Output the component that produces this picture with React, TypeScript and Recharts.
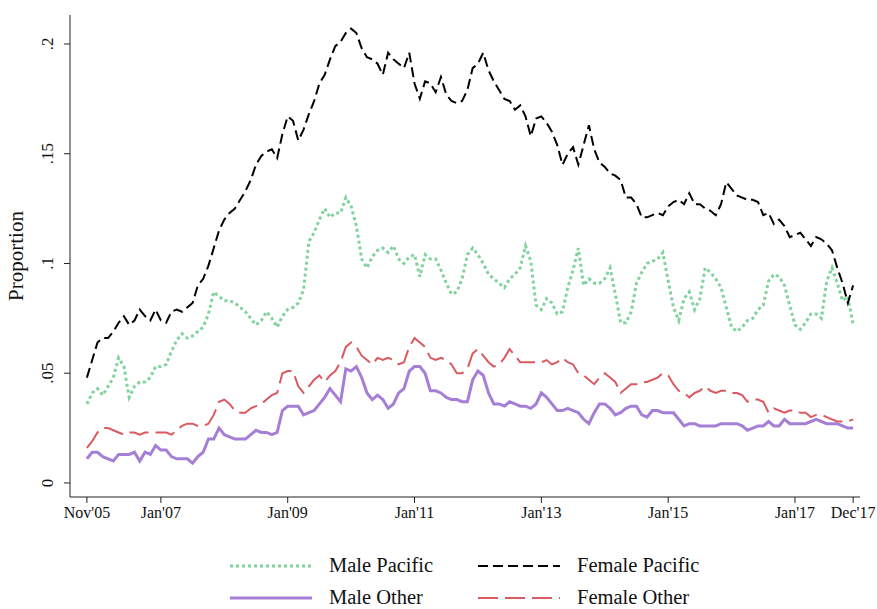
import React from 'react';
import { LineChart, Line, XAxis, YAxis } from 'recharts';

// monthly series, Nov'05 .. Dec'17 (146 months)
const malePacific = [
  0.036, 0.041, 0.043, 0.04, 0.044, 0.048, 0.057, 0.053, 0.039, 0.044,
  0.046, 0.046, 0.048, 0.053, 0.053, 0.054, 0.06, 0.065, 0.068, 0.066,
  0.067, 0.069, 0.071, 0.077, 0.087, 0.085, 0.083, 0.083, 0.082, 0.08,
  0.078, 0.075, 0.072, 0.074, 0.078, 0.075, 0.071, 0.076, 0.079, 0.08,
  0.082, 0.088, 0.11, 0.114, 0.12, 0.125, 0.121, 0.123, 0.123, 0.13,
  0.126, 0.117, 0.102, 0.098, 0.103, 0.106, 0.107, 0.105, 0.108, 0.102,
  0.1, 0.103, 0.104, 0.094, 0.104, 0.102, 0.102, 0.097, 0.091, 0.086,
  0.087, 0.093, 0.104, 0.107, 0.104, 0.1, 0.095, 0.093, 0.091, 0.089,
  0.093, 0.095, 0.098, 0.108, 0.101, 0.081, 0.079, 0.084, 0.082, 0.077,
  0.078, 0.089, 0.097, 0.107, 0.09, 0.093, 0.091, 0.091, 0.093, 0.098,
  0.086, 0.073, 0.073, 0.078, 0.091, 0.096, 0.1, 0.101, 0.102, 0.105,
  0.092, 0.08, 0.074, 0.084, 0.087, 0.079, 0.084, 0.098, 0.096, 0.093,
  0.089, 0.08, 0.071, 0.069, 0.071, 0.074, 0.075, 0.079, 0.081, 0.092,
  0.095, 0.094, 0.09, 0.081, 0.072, 0.07, 0.073, 0.077, 0.077, 0.075,
  0.092, 0.098, 0.091, 0.083, 0.085, 0.072,
];

const femalePacific = [
  0.048, 0.056, 0.064, 0.066, 0.066, 0.069, 0.073, 0.076, 0.072, 0.074,
  0.079, 0.076, 0.074, 0.079, 0.074, 0.073, 0.078, 0.079, 0.078, 0.08,
  0.082, 0.09, 0.093, 0.099, 0.107, 0.115, 0.12, 0.123, 0.125, 0.129,
  0.133, 0.138, 0.145, 0.149, 0.151, 0.152, 0.148, 0.159, 0.167, 0.165,
  0.156, 0.161, 0.168, 0.174, 0.182, 0.186, 0.193, 0.199, 0.201, 0.205,
  0.207, 0.205, 0.198, 0.194, 0.193, 0.191, 0.186, 0.196, 0.193, 0.191,
  0.189, 0.196, 0.182, 0.175, 0.183, 0.182, 0.178, 0.185, 0.177, 0.174,
  0.173, 0.174, 0.179, 0.189, 0.191, 0.196, 0.188, 0.183, 0.179, 0.175,
  0.174, 0.17, 0.172, 0.167, 0.158, 0.166, 0.167, 0.164, 0.16, 0.154,
  0.145, 0.15, 0.153, 0.145, 0.154, 0.163, 0.152, 0.146, 0.144, 0.141,
  0.14, 0.138, 0.13, 0.13, 0.127, 0.121, 0.121, 0.122, 0.123, 0.122,
  0.126, 0.128, 0.129, 0.127, 0.132, 0.127, 0.127, 0.125, 0.124, 0.122,
  0.127, 0.137, 0.134, 0.131, 0.13, 0.129, 0.129, 0.128, 0.122, 0.123,
  0.118, 0.12, 0.117, 0.112, 0.113, 0.114, 0.111, 0.108, 0.112, 0.111,
  0.109, 0.106, 0.098, 0.091, 0.082, 0.09,
];

const maleOther = [
  0.011, 0.014, 0.014, 0.012, 0.011, 0.01, 0.013, 0.013, 0.013, 0.014,
  0.01, 0.014, 0.013, 0.017, 0.015, 0.015, 0.012, 0.011, 0.011, 0.011,
  0.009, 0.012, 0.014, 0.02, 0.02, 0.025, 0.022, 0.021, 0.02, 0.02,
  0.02, 0.022, 0.024, 0.023, 0.023, 0.022, 0.023, 0.033, 0.035, 0.035,
  0.035, 0.031, 0.032, 0.033, 0.036, 0.039, 0.043, 0.04, 0.037, 0.052,
  0.051, 0.053, 0.048, 0.041, 0.038, 0.04, 0.038, 0.034, 0.036, 0.041,
  0.043, 0.051, 0.053, 0.053, 0.05, 0.042, 0.042, 0.041, 0.039, 0.038,
  0.038, 0.037, 0.037, 0.047, 0.051, 0.049, 0.041, 0.036, 0.036, 0.035,
  0.037, 0.036, 0.035, 0.035, 0.034, 0.036, 0.041, 0.039, 0.036, 0.033,
  0.033, 0.034, 0.033, 0.032, 0.029, 0.027, 0.032, 0.036, 0.036, 0.034,
  0.031, 0.032, 0.034, 0.035, 0.035, 0.031, 0.03, 0.033, 0.033, 0.032,
  0.032, 0.032, 0.029, 0.026, 0.027, 0.027, 0.026, 0.026, 0.026, 0.026,
  0.027, 0.027, 0.027, 0.027, 0.026, 0.024, 0.025, 0.026, 0.026, 0.028,
  0.026, 0.026, 0.029, 0.027, 0.027, 0.027, 0.027, 0.028, 0.029, 0.028,
  0.027, 0.027, 0.027, 0.026, 0.025, 0.025,
];

const femaleOther = [
  0.016, 0.019, 0.023, 0.025, 0.025, 0.024, 0.023, 0.022, 0.023, 0.023,
  0.022, 0.023, 0.023, 0.023, 0.023, 0.023, 0.022, 0.024, 0.026, 0.027,
  0.027, 0.026, 0.026, 0.027, 0.031, 0.037, 0.038, 0.036, 0.033, 0.032,
  0.032, 0.034, 0.035, 0.036, 0.038, 0.04, 0.041, 0.05, 0.051, 0.051,
  0.044, 0.041, 0.044, 0.047, 0.049, 0.046, 0.049, 0.051, 0.055, 0.062,
  0.064, 0.062, 0.058, 0.056, 0.054, 0.057, 0.056, 0.057, 0.056, 0.054,
  0.055, 0.062, 0.066, 0.064, 0.062, 0.057, 0.056, 0.057, 0.056, 0.054,
  0.05, 0.05, 0.052, 0.059, 0.061, 0.058, 0.055, 0.053, 0.054, 0.057,
  0.061, 0.058, 0.055, 0.055, 0.055, 0.055, 0.055, 0.056, 0.054, 0.055,
  0.057, 0.055, 0.054, 0.05, 0.049, 0.047, 0.045, 0.048, 0.05, 0.048,
  0.046, 0.041, 0.043, 0.045, 0.045, 0.046, 0.046, 0.047, 0.048, 0.05,
  0.049, 0.045, 0.042, 0.041, 0.039, 0.041, 0.042, 0.044, 0.042, 0.041,
  0.042, 0.042, 0.041, 0.041, 0.04, 0.037, 0.038, 0.038, 0.037, 0.032,
  0.034, 0.033, 0.032, 0.033, 0.033, 0.032, 0.032, 0.03, 0.031, 0.031,
  0.03, 0.029, 0.028, 0.028, 0.028, 0.029,
];

// x axis: month index from Nov'05
const xTickMonths = [0, 14, 38, 62, 86, 110, 134, 145];
const xTickLabels = ["Nov'05", "Jan'07", "Jan'09", "Jan'11", "Jan'13", "Jan'15", "Jan'17", "Dec'17"];
const yTicks = [0, 0.05, 0.1, 0.15, 0.2];
const yTickLabels = ['0', '.05', '.1', '.15', '.2'];

const font = '"Liberation Serif", "DejaVu Serif", serif';
const ink = '#111';

const series = [
  { key: 'malePacific', name: 'Male Pacific', color: '#80d39d', width: 3, dash: '3 3' },
  { key: 'femalePacific', name: 'Female Pacific', color: '#000000', width: 2, dash: '10 5' },
  { key: 'maleOther', name: 'Male Other', color: '#a57fd5', width: 3, dash: undefined },
  { key: 'femaleOther', name: 'Female Other', color: '#d95a60', width: 2, dash: '20 7' },
];

const data = malePacific.map((v, i) => ({
  m: i,
  malePacific: v,
  femalePacific: femalePacific[i],
  maleOther: maleOther[i],
  femaleOther: femaleOther[i],
}));

function YTick({ x, y, payload }: any) {
  const i = yTicks.indexOf(payload.value);
  const bx = x - 9;
  return (
    <text
      x={bx}
      y={y}
      transform={`rotate(-90, ${bx}, ${y})`}
      textAnchor="middle"
      fontFamily={font}
      fontSize={17}
      fill={ink}
    >
      {yTickLabels[i]}
    </text>
  );
}

function XTick({ x, y, payload }: any) {
  const i = xTickMonths.indexOf(payload.value);
  return (
    <text x={x} y={y + 13} textAnchor="middle" fontFamily={font} fontSize={16} fill={ink}>
      {xTickLabels[i]}
    </text>
  );
}

function LegendBox() {
  const rows = [
    [series[0], series[1]],
    [series[2], series[3]],
  ];
  return (
    <svg width={877} height={64} style={{ position: 'absolute', left: 0, top: 545 }}>
      {rows.map((row, r) =>
        row.map((s, c) => {
          const x0 = c === 0 ? 230 : 478;
          const y = 21 + r * 32;
          return (
            <g key={s.key}>
              <line
                x1={x0}
                x2={x0 + 82}
                y1={y}
                y2={y}
                stroke={s.color}
                strokeWidth={s.width}
                strokeDasharray={s.dash}
              />
              <text x={x0 + 99} y={y + 6} fontFamily={font} fontSize={20.5} fill={ink}>
                {s.name}
              </text>
            </g>
          );
        })
      )}
    </svg>
  );
}

export default function App() {
  return (
    <div style={{ position: 'absolute', left: 0, top: 0, width: 877, height: 609, background: '#fff' }}>
      <LineChart
        width={877}
        height={609}
        data={data}
        margin={{ top: 15, right: 17, left: 30, bottom: 82 }}
      >
        <XAxis
          type="number"
          dataKey="m"
          domain={[-3.2, 146.3]}
          allowDataOverflow
          ticks={xTickMonths}
          interval={0}
          tick={<XTick />}
          tickSize={6}
          height={30}
          axisLine={{ stroke: '#222' }}
          tickLine={{ stroke: '#222' }}
        />
        <YAxis
          type="number"
          domain={[-0.0064, 0.2132]}
          allowDataOverflow
          ticks={yTicks}
          interval={0}
          tick={<YTick />}
          tickSize={6}
          width={40}
          axisLine={{ stroke: '#222' }}
          tickLine={{ stroke: '#222' }}
          label={{
            value: 'Proportion',
            angle: -90,
            position: 'insideLeft',
            offset: -14,
            style: { fontFamily: font, fontSize: 21, fill: ink, textAnchor: 'middle' },
          }}
        />
        {series.map((s) => (
          <Line
            key={s.key}
            type="linear"
            dataKey={s.key}
            name={s.name}
            stroke={s.color}
            strokeWidth={s.width}
            strokeDasharray={s.dash}
            dot={false}
            activeDot={false}
            isAnimationActive={false}
          />
        ))}
      </LineChart>
      <LegendBox />
    </div>
  );
}
